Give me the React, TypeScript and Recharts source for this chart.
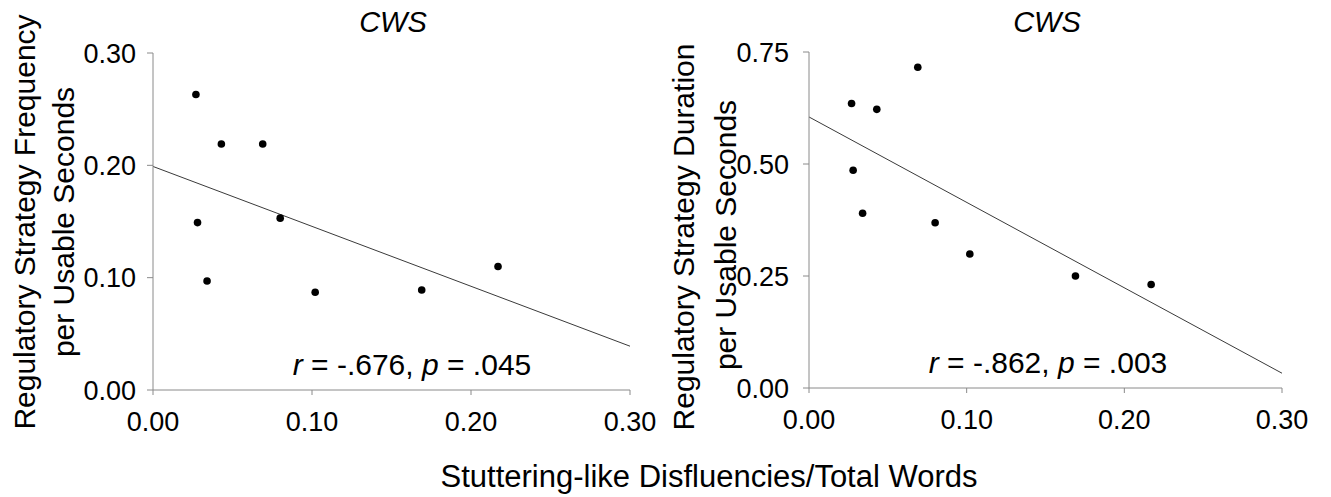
import React from 'react';
import { ScatterChart, Scatter, XAxis, YAxis, ReferenceLine } from 'recharts';

// SLD / total words for each child (same children in both panels)
const sldRatio = [0.027, 0.043, 0.069, 0.028, 0.08, 0.034, 0.102, 0.169, 0.217];
const strategyFrequency = [0.263, 0.219, 0.219, 0.149, 0.153, 0.097, 0.087, 0.089, 0.11];
const strategyDuration = [0.635, 0.622, 0.716, 0.486, 0.369, 0.39, 0.299, 0.25, 0.231];

// fitted regression lines, read at x = 0 and x = 0.30
const trendX = [0, 0.3];
const frequencyTrend = [0.199, 0.039];
const durationTrend = [0.605, 0.033];

const xTicks = [0, 0.1, 0.2, 0.3];
const frequencyTicks = [0, 0.1, 0.2, 0.3];
const durationTicks = [0, 0.25, 0.5, 0.75];

const FONT = '"Liberation Sans", Arial, sans-serif';
const AXIS_GREY = '#8a8a8a';

const frequencyData = sldRatio.map((x, i) => ({ x, y: strategyFrequency[i] }));
const durationData = sldRatio.map((x, i) => ({ x, y: strategyDuration[i] }));

const tickStyle = { fill: '#000', fontSize: 27, fontFamily: FONT };

const Dot = (props: any) => <circle cx={props.cx} cy={props.cy} r={3.8} fill="#000" />;

type PanelProps = {
  data: { x: number; y: number }[];
  trend: number[];
  yTicks: number[];
  width: number;
  margin: { top: number; right: number; bottom: number; left: number };
  yTickMargin: number;
};

function Panel({ data, trend, yTicks, width, margin, yTickMargin }: PanelProps) {
  return (
    <ScatterChart width={width} height={497} margin={margin}>
      <XAxis
        type="number"
        dataKey="x"
        domain={[0, 0.3]}
        ticks={xTicks}
        tickFormatter={(v: number) => v.toFixed(2)}
        tick={tickStyle}
        tickSize={5}
        tickMargin={17}
        height={60}
        stroke={AXIS_GREY}
        interval={0}
      />
      <YAxis
        type="number"
        dataKey="y"
        domain={[yTicks[0], yTicks[yTicks.length - 1]]}
        ticks={yTicks}
        tickFormatter={(v: number) => v.toFixed(2)}
        tick={tickStyle}
        tickSize={6}
        tickMargin={yTickMargin}
        width={100}
        stroke={AXIS_GREY}
        interval={0}
      />
      <ReferenceLine
        segment={[
          { x: trendX[0], y: trend[0] },
          { x: trendX[1], y: trend[1] },
        ]}
        stroke="#3a3a3a"
        strokeWidth={1}
      />
      <Scatter data={data} shape={Dot} isAnimationActive={false} />
    </ScatterChart>
  );
}

export default function App() {
  return (
    <div style={{ position: 'absolute', left: 0, top: 0, width: 1331, height: 497, background: '#fff' }}>
      <div style={{ position: 'absolute', left: 0, top: 0 }}>
        <Panel
          data={frequencyData}
          trend={frequencyTrend}
          yTicks={frequencyTicks}
          width={660}
          margin={{ top: 53, right: 30, bottom: 47, left: 53 }}
          yTickMargin={11}
        />
      </div>
      <div style={{ position: 'absolute', left: 660, top: 0 }}>
        <Panel
          data={durationData}
          trend={durationTrend}
          yTicks={durationTicks}
          width={671}
          margin={{ top: 52, right: 49, bottom: 49, left: 49 }}
          yTickMargin={14}
        />
      </div>
      <svg
        width={1331}
        height={497}
        style={{ position: 'absolute', left: 0, top: 0, pointerEvents: 'none' }}
        fontFamily={FONT}
      >
        <text x={393} y={32} fontSize={29} fontStyle="italic" textAnchor="middle">CWS</text>
        <text x={1047} y={32} fontSize={29} fontStyle="italic" textAnchor="middle">CWS</text>

        <g fontSize={30} textAnchor="middle">
          <text transform="translate(35,222) rotate(-90)">Regulatory Strategy Frequency</text>
          <text transform="translate(74,222) rotate(-90)">per Usable Seconds</text>
          <text transform="translate(694,237) rotate(-90)">Regulatory Strategy Duration</text>
          <text transform="translate(736,235) rotate(-90)">per Usable Seconds</text>
        </g>

        <text x={412} y={375} fontSize={30} textAnchor="middle">
          <tspan fontStyle="italic">r</tspan> = -.676, <tspan fontStyle="italic">p</tspan> = .045
        </text>
        <text x={1048} y={373} fontSize={30} textAnchor="middle">
          <tspan fontStyle="italic">r</tspan> = -.862, <tspan fontStyle="italic">p</tspan> = .003
        </text>

        <text x={709} y={487} fontSize={31} textAnchor="middle">
          Stuttering-like Disfluencies/Total Words
        </text>
      </svg>
    </div>
  );
}
